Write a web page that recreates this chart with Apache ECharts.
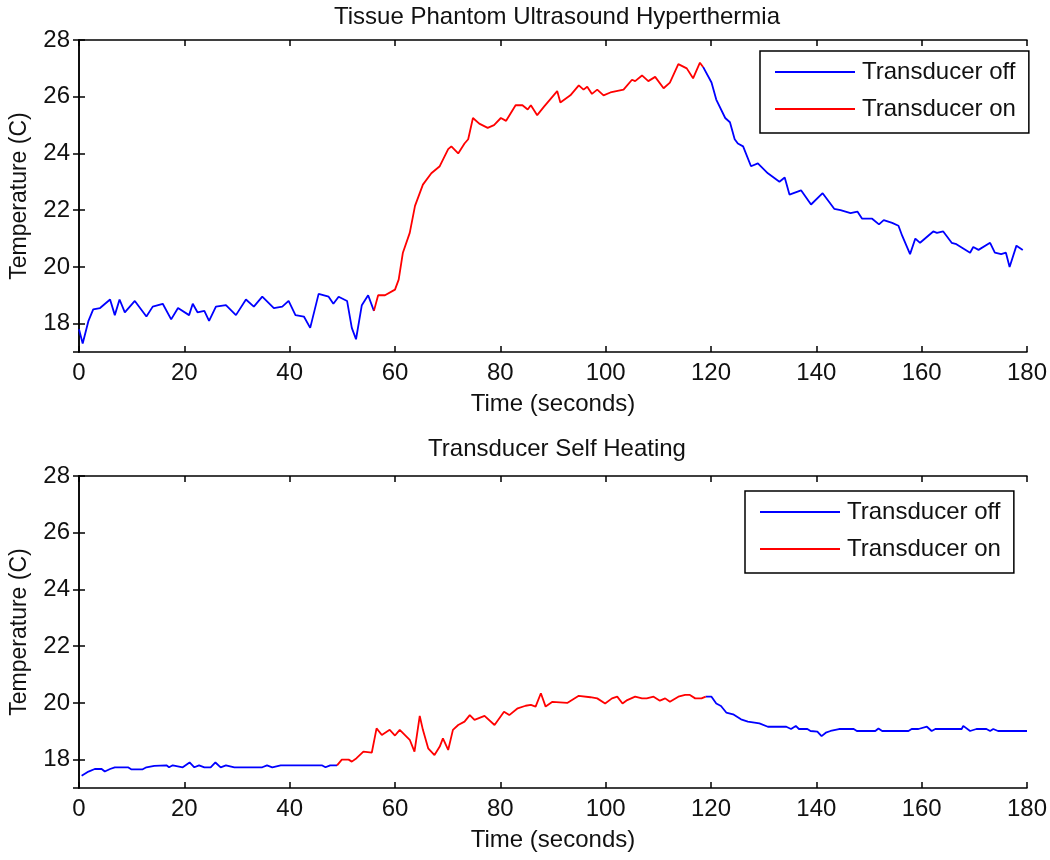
<!DOCTYPE html>
<html>
<head>
<meta charset="utf-8">
<script src="https://cdn.jsdelivr.net/npm/echarts@6/dist/echarts.min.js"></script>
<style>html,body{margin:0;padding:0;background:#fff}#c{width:1050px;height:860px}</style>
</head>
<body>
<div id="c"></div>
<script>
// ---------- DATA ----------
const titles = ['Tissue Phantom Ultrasound Hyperthermia', 'Transducer Self Heating'];
const seriesNames = ['Transducer off', 'Transducer on'];
const xTicks = [0, 20, 40, 60, 80, 100, 120, 140, 160, 180];
const yTickLabels = [18, 20, 22, 24, 26, 28];

const topTime = [0,0.7,1.8,2.7,4.0,5.9,6.8,7.7,8.7,10.6,12.8,14.0,15.9,17.5,18.8,20.9,21.6,22.5,23.8,24.7,26.0,27.9,29.8,31.7,33.2,34.8,37.0,38.6,39.8,41.1,42.7,43.9,45.5,47.4,48.3,49.3,50.9,51.8,52.6,53.7,54.9,56.0,56.8,58.1,60.0,60.7,61.5,62.8,63.8,65.3,66.9,68.5,70.1,70.7,72.0,73.2,73.9,74.8,76.0,77.6,78.8,80.1,81.1,82.9,84.2,85.2,85.8,87.0,88.3,90.8,91.4,93.3,94.9,95.8,96.5,97.4,98.4,99.6,100.9,103.4,105.0,105.6,106.9,108.1,109.4,111.0,112.2,113.8,115.4,116.6,117.9,118.5,120.1,121.0,122.7,123.6,124.5,125.1,126.1,127.6,128.9,130.8,133.0,134.0,134.9,137.1,139.0,141.2,143.4,144.6,146.5,147.8,148.7,150.6,151.9,152.8,154.4,155.6,156.3,157.8,158.8,159.7,162.2,162.9,164.1,165.7,166.6,169.2,169.8,170.8,173.0,173.9,175.1,176.0,176.7,178.0,179.2];
const topTemp = [17.8,17.3,18.1,18.5,18.55,18.85,18.3,18.85,18.4,18.8,18.25,18.6,18.7,18.15,18.55,18.3,18.7,18.4,18.45,18.1,18.6,18.65,18.3,18.85,18.6,18.95,18.55,18.6,18.8,18.3,18.25,17.85,19.05,18.95,18.7,18.95,18.8,17.85,17.45,18.65,19.0,18.45,19.0,19.0,19.2,19.55,20.5,21.2,22.15,22.9,23.3,23.55,24.15,24.25,24.0,24.35,24.5,25.25,25.05,24.9,25.0,25.25,25.15,25.7,25.7,25.55,25.7,25.35,25.65,26.2,25.8,26.05,26.4,26.25,26.35,26.1,26.25,26.05,26.15,26.25,26.6,26.55,26.75,26.55,26.7,26.3,26.5,27.15,27.0,26.65,27.2,27.05,26.5,25.9,25.25,25.1,24.5,24.35,24.25,23.55,23.65,23.3,23.0,23.15,22.55,22.7,22.2,22.6,22.05,22.0,21.9,21.95,21.7,21.7,21.5,21.65,21.55,21.45,21.1,20.45,21.0,20.85,21.25,21.2,21.25,20.85,20.8,20.5,20.7,20.6,20.85,20.5,20.45,20.5,20.0,20.75,20.6];
const topOnStart = 56.0;
const topOnEnd = 118.5;

const botTime = [0.5,1.8,3.0,4.3,4.9,5.9,6.8,9.3,9.9,12.1,12.8,14.3,16.6,17.1,17.8,19.7,21.0,21.9,22.8,23.8,25.0,25.9,26.9,27.9,29.5,34.8,35.7,36.7,38.3,46.1,46.8,47.7,49.0,49.9,51.2,51.8,52.7,54.0,55.6,56.5,57.5,59.0,60.0,60.9,62.8,63.7,64.7,65.3,66.3,67.5,68.5,69.1,70.1,71.0,72.0,73.2,74.2,75.1,77.0,78.9,80.7,81.7,83.3,84.8,85.8,86.7,87.7,88.6,89.9,92.7,94.9,97.1,98.4,99.9,101.2,102.2,103.2,104.1,105.6,106.9,107.8,109.1,110.3,111.3,112.2,113.8,115.1,116.0,117.0,118.2,119.0,120.1,121.0,121.9,122.9,124.2,125.7,127.0,129.2,130.8,134.3,135.2,136.1,136.7,138.3,138.9,140.2,141.0,141.8,142.7,144.3,147.1,147.7,151.2,151.8,152.5,157.5,158.1,159.4,159.7,161.0,161.9,162.6,167.6,167.9,169.2,170.4,172.3,173.0,173.6,174.5,180.0];
const botTemp = [17.43,17.58,17.67,17.67,17.58,17.67,17.73,17.73,17.66,17.66,17.73,17.78,17.8,17.73,17.8,17.73,17.9,17.73,17.8,17.73,17.73,17.9,17.73,17.8,17.73,17.73,17.8,17.73,17.8,17.8,17.73,17.8,17.8,18.0,18.0,17.93,18.05,18.28,18.25,19.1,18.87,19.05,18.85,19.05,18.7,18.28,19.54,19.05,18.4,18.16,18.46,18.75,18.34,19.05,19.22,19.34,19.57,19.4,19.54,19.22,19.69,19.57,19.81,19.9,19.93,19.87,20.34,19.87,20.04,20.0,20.25,20.2,20.16,19.98,20.16,20.22,19.98,20.1,20.22,20.16,20.16,20.22,20.08,20.16,20.04,20.22,20.28,20.28,20.16,20.16,20.22,20.22,19.98,19.89,19.66,19.6,19.42,19.34,19.28,19.16,19.16,19.08,19.19,19.08,19.08,19.01,18.99,18.83,18.95,19.01,19.08,19.08,19.01,19.01,19.1,19.01,19.01,19.08,19.08,19.01,19.16,19.01,19.08,19.08,19.19,19.01,19.08,19.08,19.01,19.08,19.01,19.01];
const botOnStart = 49.0;
const botOnEnd = 119.0;

// ---------- BUILD ----------
function split(time, temp, onStart, onEnd) {
  const off = [], on = [];
  let gapAdded = false;
  for (let i = 0; i < time.length; i++) {
    const t = time[i], v = temp[i];
    if (t <= onStart) off.push([t, v]);
    if (t >= onStart && t <= onEnd) on.push([t, v]);
    if (t >= onEnd) {
      if (!gapAdded) { off.push([(onStart + onEnd) / 2, '-']); gapAdded = true; }
      off.push([t, v]);
    }
  }
  return { off, on };
}
const topData = split(topTime, topTemp, topOnStart, topOnEnd);
const botData = split(botTime, botTemp, botOnStart, botOnEnd);

const FONT = 'Liberation Sans, Arial, sans-serif';
const TXT = '#111';
const gridTops = [40, 476];
const legendPos = [{ left: 760, top: 51 }, { left: 745, top: 491 }];

const axisLineStyle = { color: '#000', width: 1.5 };
const grids = [], xAxes = [], yAxes = [], titleArr = [], legends = [], series = [];

[topData, botData].forEach((d, g) => {
  grids.push({ left: 76, right: 21, top: gridTops[g], height: 312, containLabel: false });
  const xBase = { gridIndex: g, type: 'value', min: xTicks[0], max: xTicks[xTicks.length - 1], interval: xTicks[1] - xTicks[0],
    axisLine: { lineStyle: axisLineStyle }, axisTick: { inside: true, length: 6, lineStyle: { color: '#000', width: 1.5 } },
    splitLine: { show: false } };
  xAxes.push(Object.assign({}, xBase, { position: 'bottom',
    name: 'Time (seconds)', nameLocation: 'middle', nameGap: 40,
    nameTextStyle: { fontFamily: FONT, fontSize: 24, color: TXT },
    axisLabel: { fontFamily: FONT, fontSize: 24, color: TXT, margin: 9 } }));
  xAxes.push(Object.assign({}, xBase, { position: 'top', axisLabel: { show: false } }));
  const yBase = { gridIndex: g, type: 'value', min: 17, max: yTickLabels[yTickLabels.length - 1], splitNumber: 5,
    axisLine: { lineStyle: axisLineStyle }, axisTick: { inside: true, length: 6, lineStyle: { color: '#000', width: 1.5 } },
    splitLine: { show: false } };
  yAxes.push(Object.assign({}, yBase, { position: 'left',
    name: 'Temperature (C)', nameLocation: 'middle', nameGap: 48,
    nameTextStyle: { fontFamily: FONT, fontSize: 23, color: TXT },
    axisLabel: { fontFamily: FONT, fontSize: 24, color: TXT, margin: 9, showMinLabel: false,
      formatter: v => (yTickLabels.indexOf(v) >= 0 ? String(v) : '') } }));
  yAxes.push(Object.assign({}, yBase, { position: 'right', axisLabel: { show: false } }));
  titleArr.push({ text: titles[g], left: 552, textAlign: 'center', top: g === 0 ? 0 : 432,
    textStyle: { fontFamily: FONT, fontSize: 24, fontWeight: 'normal', color: TXT } });
  legends.push({ orient: 'vertical', left: legendPos[g].left, top: legendPos[g].top,
    data: seriesNames.map(n => ({ name: n, icon: 'rect' })), itemWidth: 80, itemHeight: 2, itemGap: 13,
    padding: [9, 13, 12, 15], borderColor: '#000', borderWidth: 1.5, backgroundColor: '#fff',
    selectedMode: false,
    textStyle: { fontFamily: FONT, fontSize: 24, color: TXT, lineHeight: 24, padding: [0, 0, 0, 2] } });
  series.push({ name: seriesNames[0], type: 'line', xAxisIndex: g * 2, yAxisIndex: g * 2, data: d.off,
    symbol: 'none', connectNulls: false, lineStyle: { color: '#0000ff', width: 1.8 }, itemStyle: { color: '#0000ff' },
    animation: false, z: 3 });
  series.push({ name: seriesNames[1], type: 'line', xAxisIndex: g * 2, yAxisIndex: g * 2, data: d.on,
    symbol: 'none', lineStyle: { color: '#ff0000', width: 1.8 }, itemStyle: { color: '#ff0000' },
    animation: false, z: 3 });
});

const chart = echarts.init(document.getElementById('c'), null, { renderer: 'canvas' });
chart.setOption({
  backgroundColor: '#fff',
  animation: false,
  title: titleArr,
  legend: legends,
  grid: grids,
  xAxis: xAxes,
  yAxis: yAxes,
  series: series
});
</script>
</body>
</html>
